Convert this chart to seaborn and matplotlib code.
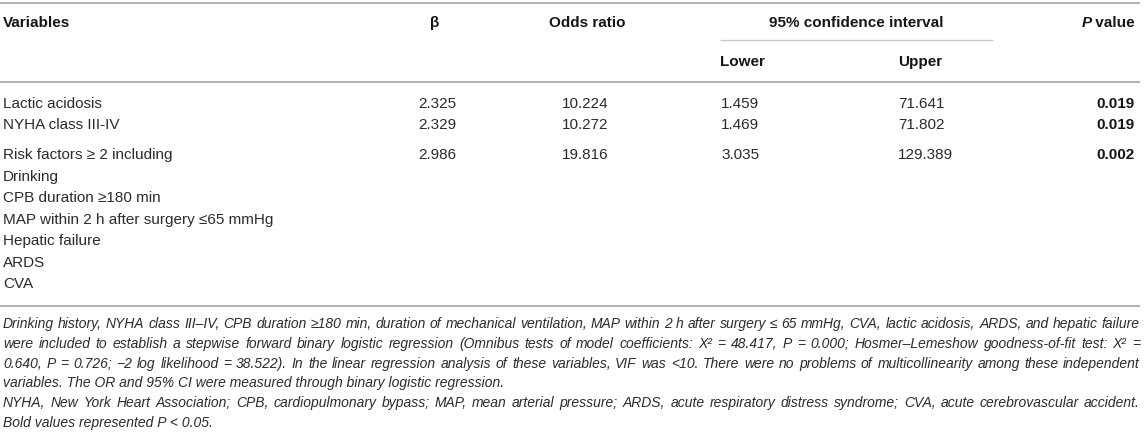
import matplotlib
matplotlib.use("Agg")
import matplotlib.pyplot as plt
import seaborn as sns
import pandas as pd

# Table content
variables = ["Lactic acidosis", "NYHA class III-IV", "Risk factors \u2265 2 including"]
risk_items = ["Drinking", "CPB duration \u2265180 min", "MAP within 2 h after surgery \u226465 mmHg",
              "Hepatic failure", "ARDS", "CVA"]
beta = [2.325, 2.329, 2.986]
odds_ratio = [10.224, 10.272, 19.816]
ci_lower = [1.459, 1.469, 3.035]
ci_upper = [71.641, 71.802, 129.389]
p_values = [0.019, 0.019, 0.002]

footnote_lines = [
    "Drinking history, NYHA class III\u2013IV, CPB duration \u2265180 min, duration of mechanical ventilation, "
    "MAP within 2 h after surgery \u2264 65 mmHg, CVA, lactic acidosis, ARDS, and hepatic failure",
    "were included to establish a stepwise forward binary logistic regression (Omnibus tests of model "
    "coefficients: X\u00b2 = 48.417, P = 0.000; Hosmer\u2013Lemeshow goodness-of-fit test: X\u00b2 =",
    "0.640, P = 0.726; \u22122 log likelihood = 38.522). In the linear regression analysis of these variables, "
    "VIF was <10. There were no problems of multicollinearity among these independent",
    "variables. The OR and 95% CI were measured through binary logistic regression.",
    "NYHA, New York Heart Association; CPB, cardiopulmonary bypass; MAP, mean arterial pressure; ARDS, "
    "acute respiratory distress syndrome; CVA, acute cerebrovascular accident.",
    "Bold values represented P < 0.05.",
]
justified = [True, True, True, False, True, False]

df = pd.DataFrame({"Variables": variables, "beta": beta, "OR": odds_ratio,
                   "Lower": ci_lower, "Upper": ci_upper, "P": p_values})

sns.set_theme(style="white")
plt.rcParams["font.family"] = ["Liberation Sans", "DejaVu Sans"]

W, H = 1145, 436
fig = plt.figure(figsize=(W / 100, H / 100), dpi=100)
ax = fig.add_axes([0, 0, 1, 1])
ax.set_xlim(0, W)
ax.set_ylim(H, 0)
ax.axis("off")
renderer = fig.canvas.get_renderer()

TXT = "#2b2b2b"
HEAD = "#161616"
RULE = "#b4b4b4"
FS = 11

def txt(x, y, s, **kw):
    kw.setdefault("fontsize", FS)
    kw.setdefault("color", TXT)
    kw.setdefault("va", "center")
    return ax.text(x, y, s, **kw)

def width(t):
    return t.get_window_extent(renderer).width

# rules
for y in (3, 82, 306):
    ax.plot([0, 1140], [y, y], color=RULE, lw=1.5, solid_capstyle="butt")
ax.plot([720, 993], [40, 40], color="#c4c4c4", lw=0.9, solid_capstyle="butt")

# headers
hy = 23
txt(3, hy, "Variables", fontweight="bold", color=HEAD)
txt(435, hy, "\u03b2", fontweight="bold", ha="center", color=HEAD)
txt(587, hy, "Odds ratio", fontweight="bold", ha="center", color=HEAD)
txt(856, hy, "95% confidence interval", fontweight="bold", ha="center", color=HEAD)
tv = txt(1135, hy, " value", fontweight="bold", ha="right", color=HEAD)
txt(1135 - width(tv), hy, "P", fontweight="bold", fontstyle="italic", ha="right", color=HEAD)
txt(720, 62, "Lower", fontweight="bold", color=HEAD)
txt(898, 62, "Upper", fontweight="bold", color=HEAD)

# body rows
row_y = [104, 125, 155]
for i, r in df.iterrows():
    y = row_y[i]
    txt(3, y, r["Variables"])
    txt(437, y, f"{r['beta']:.3f}", ha="center")
    txt(585, y, f"{r['OR']:.3f}", ha="center")
    txt(721, y, f"{r['Lower']:.3f}")
    txt(898, y, f"{r['Upper']:.3f}")
    txt(1135, y, f"{r['P']:.3f}", ha="right", fontweight="bold", color=HEAD)
for j, item in enumerate(risk_items):
    txt(3, row_y[-1] + (j + 1) * 21.5, item)

# footnotes (italic, justified); pick the largest size that fits every justified line
left, right = 3, 1140
min_gap = 3.8
sizes = []
for line, just in zip(footnote_lines, justified):
    if not just:
        continue
    words = line.split(" ")
    probes = [ax.text(0, 0, w, fontsize=10, fontstyle="italic") for w in words]
    total = sum(width(p) for p in probes)
    for p in probes:
        p.remove()
    sizes.append(10 * (right - left - (len(words) - 1) * min_gap) / total)
fs_note = min(sizes)

note_y0, note_dy = 324, 19.8
for k, (line, just) in enumerate(zip(footnote_lines, justified)):
    y = note_y0 + k * note_dy
    kw = dict(fontsize=fs_note, fontstyle="italic", va="center")
    if not just:
        txt(left, y, line, **kw)
        continue
    words = line.split(" ")
    objs = [txt(0, y, w, **kw) for w in words]
    widths = [width(o) for o in objs]
    gap = (right - left - sum(widths)) / (len(words) - 1)
    x = left
    for o, w in zip(objs, widths):
        o.set_x(x)
        x += w + gap

fig.savefig("out.png", dpi=100, facecolor="white")
